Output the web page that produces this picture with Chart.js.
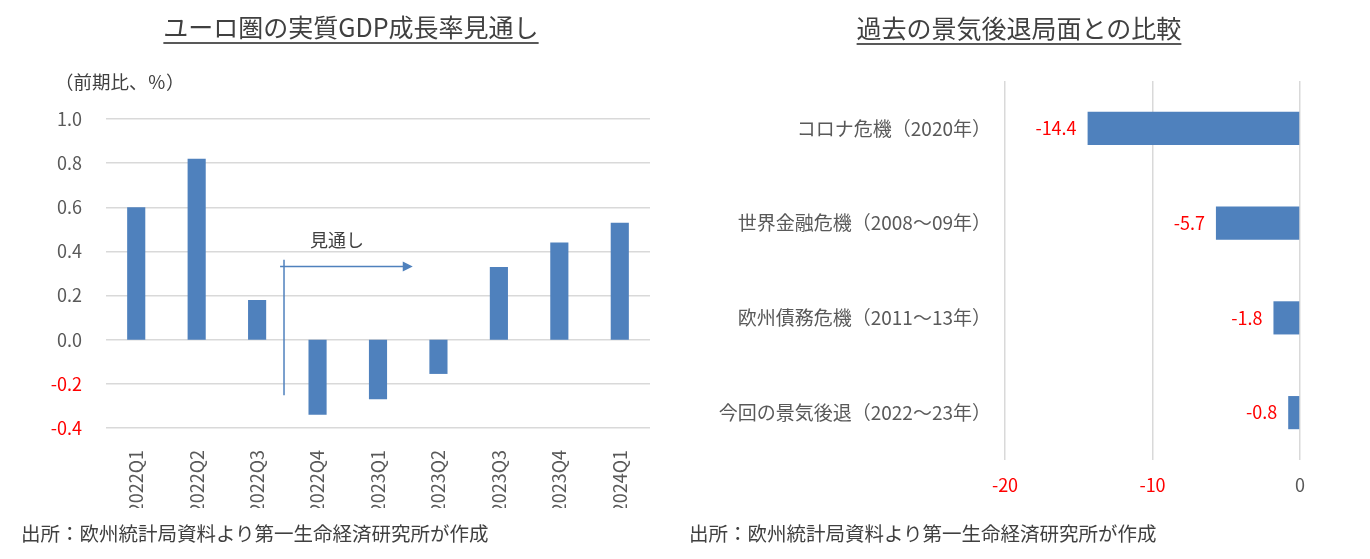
<!DOCTYPE html>
<html lang="ja">
<head>
<meta charset="utf-8">
<title>ユーロ圏の実質GDP成長率見通し</title>
<script src="https://cdn.jsdelivr.net/npm/chart.js@4.4.1/dist/chart.umd.min.js"></script>
<style>
  html, body { margin: 0; padding: 0; background: #fff; }
  body { width: 1370px; height: 559px; position: relative; overflow: hidden;
         font-family: "Noto Sans CJK JP", "Noto Sans", sans-serif; color: #404040; }
  canvas { position: absolute; top: 0; }
  .txt { position: absolute; white-space: nowrap; line-height: 1; }
  .title { font-size: 25px; text-decoration: underline; text-decoration-thickness: 2px;
           text-underline-offset: 5px; text-decoration-color: #595959; transform: translateX(-50%); }
  .src { font-size: 19.5px; top: 523px; }
</style>
</head>
<body>
<canvas id="grafico-gdp" width="680" height="559" style="left:0"></canvas>
<canvas id="grafico-recessao" width="690" height="559" style="left:680px"></canvas>

<div class="txt title" style="left:351px; top:14px;">ユーロ圏の実質GDP成長率見通し</div>
<div class="txt title" style="left:1019px; top:15px;">過去の景気後退局面との比較</div>
<div class="txt" style="left:55px; top:72px; font-size:18.5px;">（前期比、％）</div>
<div class="txt src" style="left:21px;">出所：欧州統計局資料より第一生命経済研究所が作成</div>
<div class="txt src" style="left:689px;">出所：欧州統計局資料より第一生命経済研究所が作成</div>

<script>
// dados do grafico da esquerda (crescimento trimestral)
const trimestres = ['2022Q1', '2022Q2', '2022Q3', '2022Q4', '2023Q1', '2023Q2', '2023Q3', '2023Q4', '2024Q1'];
const crescimento = [0.60, 0.82, 0.18, -0.34, -0.27, -0.155, 0.33, 0.44, 0.53];

// dados do grafico da direita (recessoes passadas)
const recessoes = ['コロナ危機（2020年）', '世界金融危機（2008～09年）', '欧州債務危機（2011～13年）', '今回の景気後退（2022～23年）'];
const quedas = [-14.4, -5.7, -1.8, -0.8];

const AZUL = '#4f81bd';
const CINZA = '#595959';
const VERMELHO = '#ff0000';
const GRADE = '#d9d9d9';
const FONTE = '"Noto Sans CJK JP", "Noto Sans", sans-serif';

// cor do tick: vermelho para negativos
function corTick(ctx) {
    return ctx.tick && ctx.tick.value < -1e-9 ? VERMELHO : CINZA;
}

// anotacao "見通し" com seta (em coordenadas de escala)
const anotacao = {
    texto: '見通し',
    textoX: 3.32, textoY: 0.45,
    linhaX: 2.445, linhaTopo: 0.362, linhaBase: -0.252,
    setaX0: 2.38, setaX1: 4.575, setaY: 0.332
};

const pluginAnotacao = {
    id: 'anotacao',
    afterDatasetsDraw(chart) {
        const x = chart.scales.x, y = chart.scales.y, c = chart.ctx;
        c.save();
        c.strokeStyle = AZUL;
        c.fillStyle = AZUL;
        c.lineWidth = 1.5;
        // linha vertical
        const lx = x.getPixelForValue(anotacao.linhaX);
        c.beginPath();
        c.moveTo(lx, y.getPixelForValue(anotacao.linhaTopo));
        c.lineTo(lx, y.getPixelForValue(anotacao.linhaBase));
        c.stroke();
        // seta horizontal
        const x0 = x.getPixelForValue(anotacao.setaX0);
        const x1 = x.getPixelForValue(anotacao.setaX1);
        const sy = y.getPixelForValue(anotacao.setaY);
        c.beginPath();
        c.moveTo(x0, sy);
        c.lineTo(x1 - 8, sy);
        c.stroke();
        c.beginPath();
        c.moveTo(x1, sy);
        c.lineTo(x1 - 10, sy - 5);
        c.lineTo(x1 - 10, sy + 5);
        c.closePath();
        c.fill();
        // texto
        c.fillStyle = '#404040';
        c.font = '18px ' + FONTE;
        c.textAlign = 'center';
        c.textBaseline = 'middle';
        c.fillText(anotacao.texto, x.getPixelForValue(anotacao.textoX), y.getPixelForValue(anotacao.textoY));
        c.restore();
    }
};

// rotulos de valor a esquerda das barras
const pluginRotulos = {
    id: 'rotulos',
    afterDatasetsDraw(chart) {
        const c = chart.ctx;
        const meta = chart.getDatasetMeta(0);
        c.save();
        c.fillStyle = VERMELHO;
        c.font = '18px ' + FONTE;
        c.textAlign = 'right';
        c.textBaseline = 'middle';
        meta.data.forEach(function (barra, i) {
            c.fillText(quedas[i].toFixed(1), barra.x - 11, barra.y);
        });
        c.restore();
    }
};

Chart.defaults.font.family = FONTE;
Chart.defaults.animation = false;

new Chart(document.getElementById('grafico-gdp'), {
    type: 'bar',
    data: {
        labels: trimestres,
        datasets: [{
            data: crescimento,
            backgroundColor: AZUL,
            barPercentage: 0.3,
            categoryPercentage: 1
        }]
    },
    options: {
        responsive: false,
        layout: { padding: { top: 119, bottom: 51, left: 0, right: 30 } },
        plugins: { legend: { display: false }, tooltip: { enabled: false } },
        scales: {
            x: {
                grid: { display: false },
                border: { display: false },
                ticks: { color: CINZA, font: { size: 18 }, minRotation: 90, maxRotation: 90, padding: 14, autoSkip: false },
                afterFit(scale) { scale.height = 80; }
            },
            y: {
                min: -0.4,
                max: 1.0,
                grid: { color: GRADE, lineWidth: 1.5, drawTicks: false },
                border: { display: false },
                ticks: {
                    stepSize: 0.2,
                    padding: 24,
                    color: corTick,
                    font: { size: 18 },
                    callback: function (v) { return Math.abs(v) < 1e-9 ? '0.0' : Number(v).toFixed(1); }
                },
                afterFit(scale) { scale.width = 106; }
            }
        }
    },
    plugins: [pluginAnotacao]
});

new Chart(document.getElementById('grafico-recessao'), {
    type: 'bar',
    data: {
        labels: recessoes,
        datasets: [{
            data: quedas,
            backgroundColor: AZUL,
            barPercentage: 0.35,
            categoryPercentage: 1
        }]
    },
    options: {
        responsive: false,
        indexAxis: 'y',
        layout: { padding: { top: 81, bottom: 39, left: 0, right: 70 } },
        plugins: { legend: { display: false }, tooltip: { enabled: false } },
        scales: {
            x: {
                min: -20,
                max: 0,
                grid: { color: GRADE, lineWidth: 1.5, drawTicks: false },
                border: { display: false },
                ticks: { stepSize: 10, padding: 14, color: corTick, font: { size: 18 } },
                afterFit(scale) { scale.height = 60; }
            },
            y: {
                grid: { display: false },
                border: { display: false },
                ticks: { color: CINZA, font: { size: 19 }, padding: 6, autoSkip: false },
                afterFit(scale) { scale.width = 325; }
            }
        }
    },
    plugins: [pluginRotulos]
});
</script>
</body>
</html>
